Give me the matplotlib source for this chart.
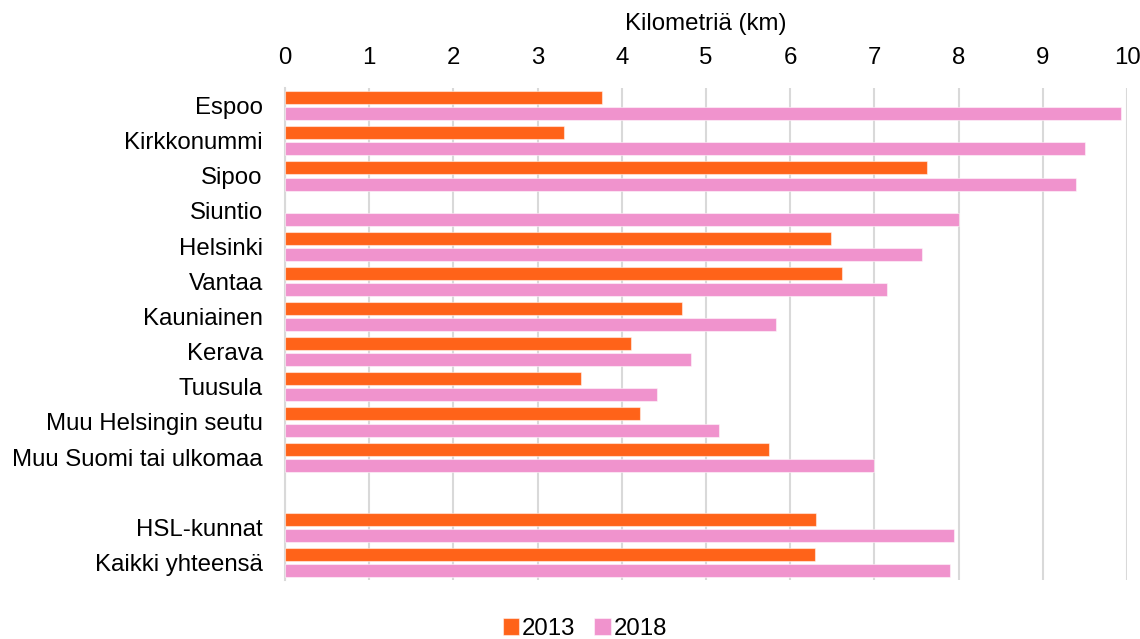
import numpy as np
import matplotlib
matplotlib.use("Agg")
import matplotlib.pyplot as plt

plt.rcParams['font.family'] = ['Liberation Sans', 'DejaVu Sans']

# data (km), tyhjä rivi ennen yhteenvetoja
kategoriat = ['Espoo', 'Kirkkonummi', 'Sipoo', 'Siuntio', 'Helsinki', 'Vantaa',
              'Kauniainen', 'Kerava', 'Tuusula', 'Muu Helsingin seutu',
              'Muu Suomi tai ulkomaa', '', 'HSL-kunnat', 'Kaikki yhteensä']
v2013 = [3.77, 3.31, 7.62, np.nan, 6.49, 6.62, 4.71, 4.11, 3.52, 4.22, 5.75,
         np.nan, 6.31, 6.29]
v2018 = [9.93, 9.50, 9.40, 8.00, 7.57, 7.15, 5.83, 4.82, 4.42, 5.15, 7.00,
         np.nan, 7.95, 7.90]
xticks = list(range(0, 11))

c2013 = '#FF6319'
c2018 = '#F093CD'
fs = 17.3

fig = plt.figure(figsize=(11.4, 6.39), dpi=100)
ax = fig.add_axes([0.25, 0.0923, 0.7386, 0.77])

y = np.arange(len(kategoriat))
h = 0.37
ax.barh(y - 0.225, v2013, height=h, color=c2013, edgecolor=(1, 1, 1, 0.5),
        linewidth=0.8, label='2013', zorder=3)
ax.barh(y + 0.235, v2018, height=h, color=c2018, edgecolor=(1, 1, 1, 0.5),
        linewidth=0.8, label='2018', zorder=3)

ax.set_xlim(0, 10)
ax.set_ylim(len(kategoriat) - 0.5, -0.5)
ax.set_yticks(y)
ax.set_yticklabels(kategoriat, fontsize=fs)
ax.set_xticks(xticks)
ax.set_xticklabels([str(t) for t in xticks], fontsize=fs)
ax.xaxis.tick_top()
ax.xaxis.set_label_position('top')
ax.set_xlabel('Kilometriä (km)', fontsize=fs, labelpad=12)
ax.tick_params(length=0)
ax.tick_params(axis='y', pad=16)
ax.tick_params(axis='x', pad=14)

ax.grid(axis='x', color='#d9d9d9', linewidth=1.5, zorder=0)
for s in ['top', 'right', 'bottom']:
    ax.spines[s].set_visible(False)
ax.spines['left'].set_color('#d9d9d9')
ax.spines['left'].set_linewidth(1.5)

fig.legend(loc='lower center', bbox_to_anchor=(0.513, -0.035), ncol=2,
           frameon=False, fontsize=fs, handlelength=0.7, handleheight=0.7,
           handletextpad=0.1, columnspacing=0.8)

fig.savefig('out.png', dpi=100)
